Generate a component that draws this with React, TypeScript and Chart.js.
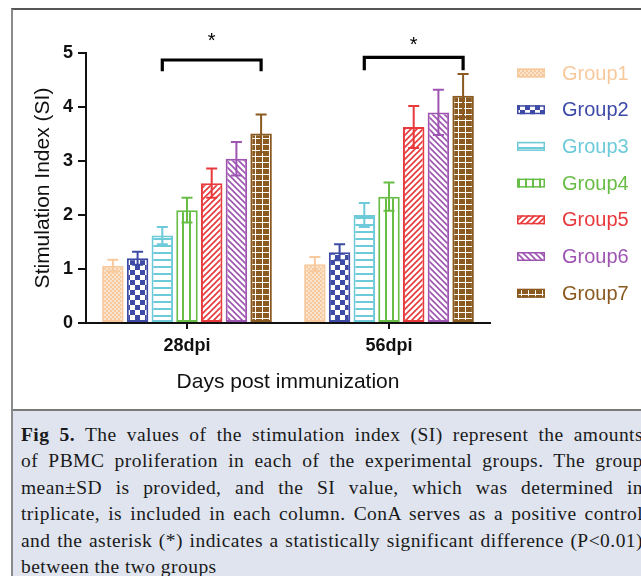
import React, { useEffect, useRef } from "react";
import { Chart, registerables } from "chart.js";

Chart.register(...registerables);

// ---------- data ----------
const categories = ["28dpi", "56dpi"];
const groupNames = ["Group1", "Group2", "Group3", "Group4", "Group5", "Group6", "Group7"];
const group1 = [1.06, 1.09];
const group2 = [1.2, 1.31];
const group3 = [1.62, 2.0];
const group4 = [2.09, 2.34];
const group5 = [2.59, 3.63];
const group6 = [3.04, 3.9];
const group7 = [3.51, 4.21];
const sd1 = [0.11, 0.13];
const sd2 = [0.12, 0.15];
const sd3 = [0.16, 0.22];
const sd4 = [0.23, 0.26];
const sd5 = [0.27, 0.39];
const sd6 = [0.31, 0.42];
const sd7 = [0.35, 0.4];
const yTicks = [0, 1, 2, 3, 4, 5];
const bracketTop = [4.87, 4.92];
const bracketLeg = [4.66, 4.68];
const asteriskY = [5.12, 5.03];
const xTitle = "Days post immunization";
const yTitle = "Stimulation Index (SI)";
const captionBold = "Fig 5.";
const captionLines = [
  " The values of the stimulation index (SI) represent the amounts",
  "of PBMC proliferation in each of the experimental groups. The group",
  "mean±SD is provided, and the SI value, which was determined in",
  "triplicate, is included in each column. ConA serves as a positive control",
  "and the asterisk (*) indicates a statistically significant difference (P<0.01)",
  "between the two groups",
];

const values = [group1, group2, group3, group4, group5, group6, group7];
const errors = [sd1, sd2, sd3, sd4, sd5, sd6, sd7];
const colors = ["#f8c99c", "#3d4ba6", "#6ccad9", "#68bd47", "#e8393c", "#9d55b1", "#8a5a20"];
const kinds = ["fine", "checker", "hlines", "vlines", "diagR", "diagL", "ladder"];

const FONT = "'Liberation Sans', Arial, Helvetica, sans-serif";

function makePattern(kind: string, color: string): CanvasPattern | string {
  const c = document.createElement("canvas");
  const g = c.getContext("2d");
  if (!g) return color;
  if (kind === "fine") {
    c.width = 4; c.height = 4;
    g.fillStyle = "#fff"; g.fillRect(0, 0, 4, 4);
    g.fillStyle = color;
    g.fillRect(0, 0, 2, 2); g.fillRect(2, 2, 2, 2);
    g.globalAlpha = 0.5; g.fillRect(2, 0, 2, 2); g.fillRect(0, 2, 2, 2);
  } else if (kind === "checker") {
    c.width = 10; c.height = 10;
    g.fillStyle = "#fff"; g.fillRect(0, 0, 10, 10);
    g.fillStyle = color;
    g.fillRect(0, 0, 5, 5); g.fillRect(5, 5, 5, 5);
  } else if (kind === "hlines") {
    c.width = 7; c.height = 7;
    g.fillStyle = "#fff"; g.fillRect(0, 0, 7, 7);
    g.fillStyle = color; g.fillRect(0, 0, 7, 2);
  } else if (kind === "vlines") {
    c.width = 7; c.height = 7;
    g.fillStyle = "#fff"; g.fillRect(0, 0, 7, 7);
    g.fillStyle = color; g.fillRect(0, 0, 2, 7);
  } else if (kind === "diagR" || kind === "diagL") {
    c.width = 6; c.height = 6;
    g.fillStyle = "#fff"; g.fillRect(0, 0, 6, 6);
    g.strokeStyle = color; g.lineWidth = 1.6;
    g.beginPath();
    if (kind === "diagR") {
      g.moveTo(-1, 7); g.lineTo(7, -1);
      g.moveTo(-4, 4); g.lineTo(4, -4);
      g.moveTo(2, 10); g.lineTo(10, 2);
    } else {
      g.moveTo(-1, -1); g.lineTo(7, 7);
      g.moveTo(-4, 2); g.lineTo(4, 10);
      g.moveTo(2, -4); g.lineTo(10, 4);
    }
    g.stroke();
  } else {
    c.width = 7; c.height = 6;
    g.fillStyle = color; g.fillRect(0, 0, 7, 6);
    g.fillStyle = "#fff";
    g.fillRect(0, 0, 7, 1);
    g.fillRect(3, 0, 1, 6);
  }
  const p = g.createPattern(c, "repeat");
  return p || color;
}

const errorBarPlugin = {
  id: "errorBars",
  afterDatasetsDraw(chart: any) {
    const ctx = chart.ctx;
    const ys = chart.scales.y;
    chart.data.datasets.forEach((_ds: any, i: number) => {
      const meta = chart.getDatasetMeta(i);
      meta.data.forEach((el: any, j: number) => {
        const v = values[i][j];
        const e = errors[i][j];
        const x = el.x;
        const yt = ys.getPixelForValue(v + e);
        const yb = ys.getPixelForValue(v - e);
        ctx.save();
        ctx.strokeStyle = colors[i];
        ctx.lineWidth = 2;
        ctx.beginPath();
        ctx.moveTo(x, yt); ctx.lineTo(x, yb);
        ctx.moveTo(x - 5.5, yt); ctx.lineTo(x + 5.5, yt);
        ctx.moveTo(x - 5.5, yb); ctx.lineTo(x + 5.5, yb);
        ctx.stroke();
        ctx.restore();
      });
    });
  },
};

const bracketPlugin = {
  id: "brackets",
  afterDraw(chart: any) {
    const ctx = chart.ctx;
    const ys = chart.scales.y;
    const mL = chart.getDatasetMeta(2);
    const mR = chart.getDatasetMeta(6);
    categories.forEach((_c, j) => {
      const x1 = mL.data[j].x;
      const x2 = mR.data[j].x;
      const yT = ys.getPixelForValue(bracketTop[j]);
      const yL = ys.getPixelForValue(bracketLeg[j]);
      ctx.save();
      ctx.strokeStyle = "#000";
      ctx.lineWidth = 3.2;
      ctx.lineJoin = "miter";
      ctx.beginPath();
      ctx.moveTo(x1, yL); ctx.lineTo(x1, yT); ctx.lineTo(x2, yT); ctx.lineTo(x2, yL);
      ctx.stroke();
      ctx.fillStyle = "#000";
      ctx.font = `20px ${FONT}`;
      ctx.textAlign = "center";
      ctx.textBaseline = "alphabetic";
      ctx.fillText("*", (x1 + x2) / 2, ys.getPixelForValue(asteriskY[j]));
      ctx.restore();
    });
  },
};

const legendPlugin = {
  id: "customLegend",
  afterDraw(chart: any) {
    const ctx = chart.ctx;
    const bx = 517, bw = 28, bh = 9, y0 = 73, step = 36.7;
    chart.data.datasets.forEach((ds: any, i: number) => {
      const cy = y0 + i * step;
      ctx.save();
      ctx.fillStyle = ds.backgroundColor;
      ctx.fillRect(bx, cy - bh / 2, bw, bh);
      ctx.strokeStyle = colors[i];
      ctx.lineWidth = 1.5;
      ctx.strokeRect(bx + 0.75, cy - bh / 2 + 0.75, bw - 1.5, bh - 1.5);
      ctx.fillStyle = colors[i];
      ctx.font = `20px ${FONT}`;
      ctx.textAlign = "left";
      ctx.textBaseline = "middle";
      ctx.fillText(ds.label, 562, cy + 1);
      ctx.restore();
    });
  },
};

export default function App() {
  const ref = useRef<HTMLCanvasElement | null>(null);

  useEffect(() => {
    if (!ref.current) return;
    const datasets = values.map((vals, i) => ({
      label: groupNames[i],
      data: vals,
      backgroundColor: makePattern(kinds[i], colors[i]) as any,
      borderColor: colors[i],
      borderWidth: 2,
      borderSkipped: false as any,
      categoryPercentage: 0.856,
      barPercentage: 0.87,
    }));
    const chart = new Chart(ref.current, {
      type: "bar",
      data: { labels: categories, datasets },
      options: {
        responsive: false,
        animation: false,
        layout: { padding: { left: 0, top: 53, right: 151, bottom: 0 } },
        plugins: { legend: { display: false }, tooltip: { enabled: false } },
        scales: {
          x: {
            grid: { display: true, drawOnChartArea: false, offset: false, tickLength: 6, color: "#111", lineWidth: 2 },
            border: { color: "#111", width: 2 },
            ticks: { color: "#111", font: { family: FONT, size: 18, weight: "bold" }, padding: 6 },
            title: { display: true, text: xTitle, color: "#111", font: { family: FONT, size: 21 }, padding: { top: 0, bottom: 15 } },
            afterFit: (s: any) => { s.height = 87; },
          },
          y: {
            min: 0,
            max: 5,
            afterBuildTicks: (s: any) => { s.ticks = yTicks.map((v) => ({ value: v })); },
            grid: { display: true, drawOnChartArea: false, tickLength: 8, color: "#111", lineWidth: 2 },
            border: { color: "#111", width: 2 },
            ticks: { color: "#111", font: { family: FONT, size: 18, weight: "bold" }, padding: 5 },
            title: { display: true, text: yTitle, color: "#111", font: { family: FONT, size: 21 }, padding: { top: 31, bottom: 0 } },
            afterFit: (s: any) => { s.width = 86; },
          },
        },
      } as any,
      plugins: [errorBarPlugin, bracketPlugin, legendPlugin],
    });
    return () => chart.destroy();
  }, []);

  return (
    <div style={{ position: "absolute", left: 0, top: 0, width: 641, height: 576, overflow: "hidden", background: "#fff" }}>
      <div style={{ position: "absolute", left: 11, top: 8, width: 700, height: 600, borderTop: "2px solid #555", borderLeft: "2px solid #8a8a8a", boxSizing: "border-box" }} />
      <canvas ref={ref} width={641} height={410} style={{ position: "absolute", left: 0, top: 0, width: 641, height: 410 }} />
      <div
        style={{
          position: "absolute", left: 13, top: 409, width: 700, height: 200,
          background: "#dfe4ef", borderTop: "2px solid #7a7a7a", boxSizing: "border-box",
          paddingTop: 11, paddingLeft: 8,
          fontFamily: "'Liberation Serif', 'Times New Roman', serif", fontSize: 19.5, letterSpacing: "0.45px", lineHeight: "26.4px", color: "#1a1a1a",
        }}
      >
        {captionLines.map((line, i) => (
          <div key={i} style={{ width: 622, height: 26.4, textAlign: "justify", textAlignLast: i < captionLines.length - 1 ? "justify" : "left", whiteSpace: "normal" }}>
            {i === 0 ? <b>{captionBold}</b> : null}
            {line}
          </div>
        ))}
      </div>
    </div>
  );
}
